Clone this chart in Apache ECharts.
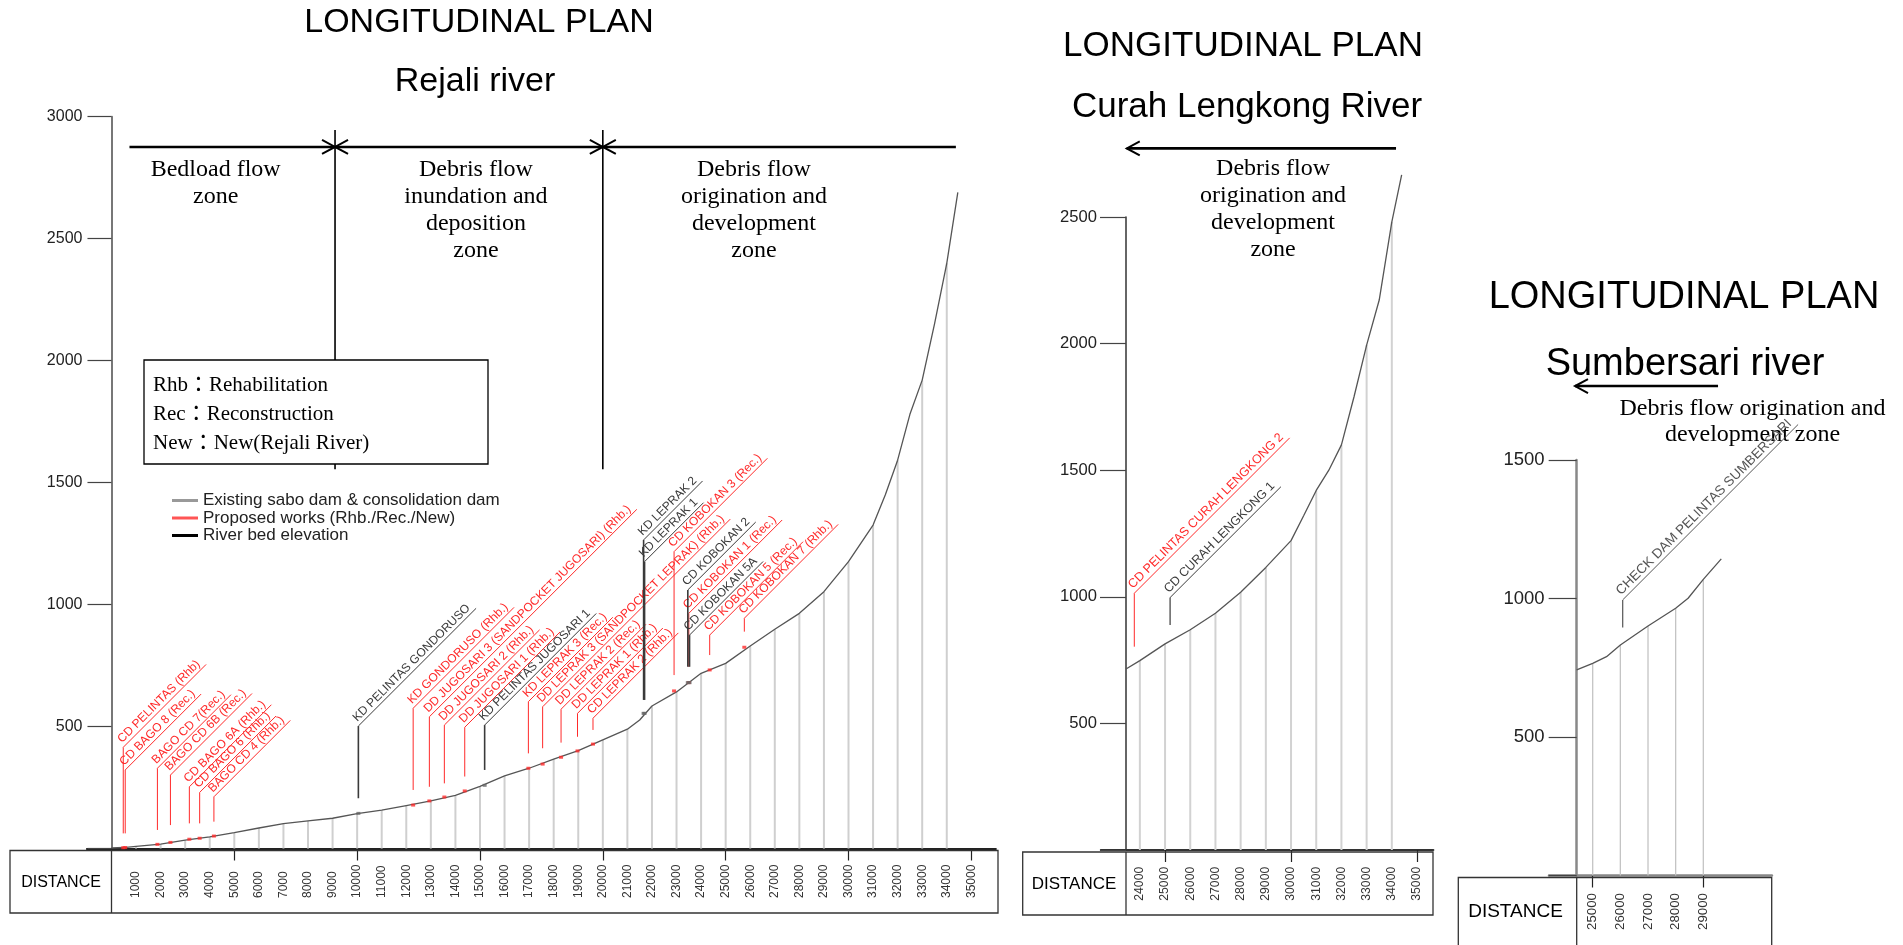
<!DOCTYPE html>
<html>
<head>
<meta charset="utf-8">
<title>Longitudinal plan</title>
<script src="https://cdn.jsdelivr.net/npm/echarts@6/dist/echarts.min.js"></script>
<style>
  html, body { margin: 0; padding: 0; background: #fff; }
  #chart { width: 1903px; height: 945px; }
</style>
</head>
<body>
<div id="chart"></div>
<script>
// ---------- data ----------

// Rejali river profile: distance (m) / river bed elevation (m)
const rejaliDistance = [0, 500, 1000, 2000, 3000, 4000, 5000, 6000, 7000, 8000, 9000, 10000, 11000, 12000, 13000, 14000, 15000, 16000, 17000, 18000, 19000, 20000, 21000, 21500, 22000, 23000, 24000, 25000, 26000, 27000, 28000, 29000, 30000, 31000, 31500, 32000, 32500, 33000, 33500, 34000, 34450]
const rejaliElevation = [2, 4, 9, 18, 34, 48, 65, 84, 102, 113, 124, 143, 157, 176, 195, 218, 255, 298, 329, 366, 401, 445, 489, 527, 584, 642, 718, 759, 830, 899, 964, 1053, 1176, 1326, 1450, 1592, 1780, 1920, 2150, 2399, 2690]
const rejaliDistanceLabels = [1000, 2000, 3000, 4000, 5000, 6000, 7000, 8000, 9000, 10000, 11000, 12000, 13000, 14000, 15000, 16000, 17000, 18000, 19000, 20000, 21000, 22000, 23000, 24000, 25000, 26000, 27000, 28000, 29000, 30000, 31000, 32000, 33000, 34000, 35000]
const rejaliMajorTicks = [5000, 10000, 15000, 20000, 25000, 30000, 35000]

// Rejali works: P = proposed (red), E = existing (dark)
const rejaliWorkNames = [
  'CD PELINTAS (Rhb)', 'CD BAGO 8 (Rec.)', 'BAGO CD 7(Rec.)', 'BAGO CD 6B (Rec.)', 'CD BAGO 6A (Rhb.)',
  'CD BAGO 6 (Rhb.)', 'BAGO CD 4 (Rhb.)', 'KD PELINTAS GONDORUSO', 'KD GONDORUSO (Rhb.)',
  'DD JUGOSARI 3 (SANDPOCKET JUGOSARI) (Rhb.)', 'DD JUGOSARI 2 (Rhb.)', 'DD JUGOSARI 1 (Rhb.)',
  'KD PELINTAS JUGOSARI 1', 'KD LEPRAK 3 (Rec.)', 'DD LEPRAK 3 (SANDPOCKET LEPRAK) (Rhb.)',
  'DD LEPRAK 2 (Rec.)', 'DD LEPRAK 1 (Rhb.)', 'CD LEPRAK 2 (Rhb.)', 'KD LEPRAK 2', 'KD LEPRAK 1',
  'CD KOBOKAN 3 (Rec.)', 'CD KOBOKAN 2', 'CD KOBOKAN 1 (Rec.)', 'CD KOBOKAN 5A', 'CD KOBOKAN 5 (Rec.)',
  'CD KOBOKAN 7 (Rhb.)'
]
const rejaliWorkType = ['P', 'P', 'P', 'P', 'P', 'P', 'P', 'E', 'P', 'P', 'P', 'P', 'E', 'P', 'P', 'P', 'P', 'P', 'E', 'E', 'P', 'E', 'P', 'E', 'P', 'P']
const rejaliWorkDistance = [480, 560, 1870, 2400, 3170, 3590, 4170, 10050, 12280, 12940, 13550, 14380, 15190, 16970, 17550, 18300, 18970, 19600, 21660, 21700, 22900, 23460, 23500, 23530, 24350, 25760]
const rejaliWorkBed = [3, 4, 17, 25, 38, 42, 51, 144, 178, 195, 211, 236, 259, 329, 346, 374, 400, 428, 554, 554, 646, 680, 680, 680, 732, 825]
const rejaliLeaderFrom = [62, 62, 76, 96, 103, 103, 110, 206, 240, 253, 267, 295, 322, 390, 411, 434, 458, 486, 609, 609, 711, 745, 745, 745, 793, 889]
const rejaliLeaderTo = [415, 322, 329, 301, 253, 230, 212, 502, 575, 540, 506, 497, 506, 602, 581, 571, 554, 534, 1265, 1176, 1217, 1060, 964, 875, 875, 944]

// Curah Lengkong river
const curahDistance = [23450, 24000, 25000, 26000, 27000, 28000, 29000, 30000, 30500, 31000, 31500, 32000, 32500, 33000, 33500, 34000, 34390]
const curahElevation = [715, 748, 814, 870, 935, 1018, 1116, 1222, 1320, 1420, 1500, 1600, 1790, 1994, 2172, 2481, 2666]
const curahDistanceLabels = [24000, 25000, 26000, 27000, 28000, 29000, 30000, 31000, 32000, 33000, 34000, 35000]
const curahMajorTicks = [25000, 30000, 35000]
const curahWorkNames = ['CD PELINTAS CURAH LENGKONG 2', 'CD CURAH LENGKONG 1']
const curahWorkType = ['P', 'E']
const curahWorkDistance = [23780, 25200]
const curahLeaderFrom = [803, 889]
const curahLeaderTo = [1014, 997]

// Sumbersari river
const sumberDistance = [24420, 25000, 25500, 26000, 27000, 28000, 28450, 29000, 29650]
const sumberElevation = [742, 766, 790, 832, 901, 965, 1001, 1069, 1143]
const sumberDistanceLabels = [25000, 26000, 27000, 28000, 29000]
const sumberMajorTicks = [25000, 29000]
const sumberWorkNames = ['CHECK DAM PELINTAS SUMBERSARI']
const sumberWorkType = ['E']
const sumberWorkDistance = [26085]
const sumberLeaderFrom = [895]
const sumberLeaderTo = [995]

// ---------- styling ----------
const SANS = '"Liberation Sans", Arial, sans-serif'
const SERIF = '"Liberation Serif", "Times New Roman", "Noto Sans CJK JP", serif'
const RED = '#ff2a2a'
const DARK = '#3a3a3a'
const PROPOSED = 'Proposed works (Rhb./Rec./New)'
const EXISTING = 'Existing sabo dam & consolidation dam'
const RIVERBED = 'River bed elevation'

const measureCtx = document.createElement('canvas').getContext('2d')
function textWidth (s, size) {
  measureCtx.font = size + 'px ' + SANS
  return measureCtx.measureText(s).width
}

const panels = [
  { left: 86.9, top: 116.7, width: 909, height: 731.8, xMin: -1000, xMax: 36000, yAt: 0, yMax: 3000,
    labels: rejaliDistanceLabels, ticks: rejaliMajorTicks, xLabelSize: 12, xLabelMargin: 49.5,
    yLabelSize: 16, yTickLen: 24, yLabelMargin: 29, yColor: '#777', yWidth: 2, baseColor: '#222', baseWidth: 2 },
  { left: 1100.8, top: 217, width: 332.6, height: 633, xMin: 22450, xMax: 35650, yAt: 23450, yMax: 2500,
    labels: curahDistanceLabels, ticks: curahMajorTicks, xLabelSize: 12.2, xLabelMargin: 50.7,
    yLabelSize: 16.6, yTickLen: 26, yLabelMargin: 29, yColor: '#333', yWidth: 1.5, baseColor: '#333', baseWidth: 2 },
  { left: 1549, top: 460, width: 222.9, height: 415.5, xMin: 23420, xMax: 31480, yAt: 24420, yMax: 1500,
    labels: sumberDistanceLabels, ticks: sumberMajorTicks, xLabelSize: 13.3, xLabelMargin: 54.5,
    yLabelSize: 18.5, yTickLen: 28, yLabelMargin: 32, yColor: '#888', yWidth: 2.5, baseColor: '#888', baseWidth: 2.5 }
]

const grids = panels.map(p => ({ left: p.left, top: p.top, width: p.width, height: p.height }))

const xAxes = panels.map((p, i) => ({
  type: 'value', gridIndex: i, min: p.xMin, max: p.xMax,
  splitLine: { show: false },
  axisLine: { onZero: false, lineStyle: { color: p.baseColor, width: p.baseWidth } },
  axisTick: { customValues: p.ticks, length: 12, lineStyle: { color: '#222', width: 1.2 } },
  axisLabel: {
    customValues: p.labels, rotate: 90, align: 'left', verticalAlign: 'middle',
    margin: p.xLabelMargin, fontSize: p.xLabelSize, fontFamily: SANS, color: '#333',
    formatter: v => String(v)
  }
}))

const yAxes = panels.map((p, i) => ({
  type: 'value', gridIndex: i, min: 0, max: p.yMax, interval: 500,
  offset: -(p.yAt - p.xMin) / (p.xMax - p.xMin) * p.width,
  splitLine: { show: false },
  axisLine: { show: true, onZero: false, lineStyle: { color: p.yColor, width: p.yWidth } },
  axisTick: { show: true, length: p.yTickLen, lineStyle: { color: '#444', width: 1.2 } },
  axisLabel: {
    margin: p.yLabelMargin, fontSize: p.yLabelSize, fontFamily: SANS, color: '#222',
    formatter: v => (v === 0 ? '' : String(v))
  }
}))

// ---------- series builders ----------
function profileSeries (gi, dist, elev) {
  return {
    type: 'line', name: RIVERBED, xAxisIndex: gi, yAxisIndex: gi, z: 3, clip: false,
    symbol: 'none', lineStyle: { color: '#555', width: 1.3 }, itemStyle: { color: '#000' },
    data: dist.map((d, i) => [d, elev[i]])
  }
}

function stationSeries (gi, dist, elev, color, width) {
  const data = []
  dist.forEach((d, i) => { if (d > 0 && d % 1000 === 0) data.push([d, elev[i]]) })
  return {
    type: 'custom', xAxisIndex: gi, yAxisIndex: gi, z: 1, silent: true, data,
    renderItem: (params, api) => {
      const a = api.coord([api.value(0), 0])
      const b = api.coord([api.value(0), api.value(1)])
      return { type: 'line', shape: { x1: a[0], y1: a[1], x2: b[0], y2: b[1] }, style: { stroke: color, lineWidth: width } }
    }
  }
}

function leaderSeries (gi, name, color, names, dist, from, to, fontSize, lineWidth) {
  return {
    type: 'custom', name, xAxisIndex: gi, yAxisIndex: gi, z: 5, itemStyle: { color },
    data: dist.map((d, i) => [d, from[i], to[i]]),
    renderItem: (params, api) => {
      const label = names[params.dataIndex]
      const p0 = api.coord([api.value(0), api.value(1)])
      const p1 = api.coord([api.value(0), api.value(2)])
      const k = Math.SQRT1_2
      const len = textWidth(label, fontSize) + 6
      return {
        type: 'group',
        children: [
          { type: 'line', shape: { x1: p0[0], y1: p0[1], x2: p1[0], y2: p1[1] }, style: { stroke: color, lineWidth } },
          { type: 'line', shape: { x1: p1[0], y1: p1[1], x2: p1[0] + len * k, y2: p1[1] - len * k }, style: { stroke: color, lineWidth: 1 } },
          {
            type: 'text', x: p1[0] + 2 * k - 1 * k, y: p1[1] - 2 * k - 1 * k, rotation: Math.PI / 4,
            style: { text: label, fill: color, fontSize, fontFamily: SANS, align: 'left', verticalAlign: 'bottom' }
          }
        ]
      }
    }
  }
}

function dotSeries (gi, name, color, dist, bed) {
  return {
    type: 'scatter', name, xAxisIndex: gi, yAxisIndex: gi, z: 4, symbol: 'rect', symbolSize: [4, 3],
    itemStyle: { color }, data: dist.map((d, i) => [d, bed[i]])
  }
}

// split a works table into proposed / existing
function pick (type, want, arr) { return arr.filter((v, i) => type[i] === want) }

// zone arrows: [x1, x2, y, head at start, head at end]
function arrowSeries (gi, arrows) {
  return {
    type: 'custom', xAxisIndex: gi, yAxisIndex: gi, z: 2, silent: true, data: arrows,
    renderItem: (params, api) => {
      const a = api.coord([api.value(0), api.value(2)])
      const b = api.coord([api.value(1), api.value(2)])
      const kids = [{ type: 'line', shape: { x1: a[0], y1: a[1], x2: b[0], y2: b[1] }, style: { stroke: '#000', lineWidth: 2.6 } }]
      const head = (pt, dir) => ({
        type: 'polyline',
        shape: { points: [[pt[0] - dir * 13, pt[1] - 7], [pt[0], pt[1]], [pt[0] - dir * 13, pt[1] + 7]] },
        style: { stroke: '#000', lineWidth: 2, fill: null }
      })
      if (api.value(3)) kids.push(head(a, -1))
      if (api.value(4)) kids.push(head(b, 1))
      return { type: 'group', children: kids }
    }
  }
}

// zone boundaries: [x, yLow, yHigh]
function boundSeries (gi, bounds) {
  return {
    type: 'custom', xAxisIndex: gi, yAxisIndex: gi, z: 2, silent: true, data: bounds,
    renderItem: (params, api) => {
      const a = api.coord([api.value(0), api.value(1)])
      const b = api.coord([api.value(0), api.value(2)])
      return { type: 'line', shape: { x1: a[0], y1: a[1], x2: b[0], y2: b[1] }, style: { stroke: '#000', lineWidth: 1.6 } }
    }
  }
}

// zone captions: anchor is centre-top of the text block
function captionSeries (gi, anchors, texts, lineHeight) {
  return {
    type: 'custom', xAxisIndex: gi, yAxisIndex: gi, z: 2, silent: true, data: anchors,
    renderItem: (params, api) => {
      const p = api.coord([api.value(0), api.value(1)])
      return {
        type: 'text', x: p[0], y: p[1],
        style: { text: texts[params.dataIndex], fill: '#000', fontSize: 24, fontFamily: SERIF, lineHeight, align: 'center', verticalAlign: 'top' }
      }
    }
  }
}

const series = [
  // Rejali
  stationSeries(0, rejaliDistance, rejaliElevation, '#cfcfcf', 2),
  profileSeries(0, rejaliDistance, rejaliElevation),
  dotSeries(0, PROPOSED, RED, pick(rejaliWorkType, 'P', rejaliWorkDistance), pick(rejaliWorkType, 'P', rejaliWorkBed)),
  dotSeries(0, EXISTING, '#666', pick(rejaliWorkType, 'E', rejaliWorkDistance), pick(rejaliWorkType, 'E', rejaliWorkBed)),
  leaderSeries(0, PROPOSED, RED, pick(rejaliWorkType, 'P', rejaliWorkNames), pick(rejaliWorkType, 'P', rejaliWorkDistance),
    pick(rejaliWorkType, 'P', rejaliLeaderFrom), pick(rejaliWorkType, 'P', rejaliLeaderTo), 12, 1),
  leaderSeries(0, EXISTING, DARK, pick(rejaliWorkType, 'E', rejaliWorkNames), pick(rejaliWorkType, 'E', rejaliWorkDistance),
    pick(rejaliWorkType, 'E', rejaliLeaderFrom), pick(rejaliWorkType, 'E', rejaliLeaderTo), 12, 1.6),
  arrowSeries(0, [[733, 9100, 2876, 0, 1], [9100, 20000, 2876, 1, 1], [20000, 34371, 2876, 1, 0]]),
  boundSeries(0, [[9100, 1555, 2945], [20000, 1555, 2945]]),
  captionSeries(0, [[4241, 2837], [14835, 2837], [26150, 2837]],
    ['Bedload flow\nzone', 'Debris flow\ninundation and\ndeposition\nzone', 'Debris flow\norigination and\ndevelopment\nzone'], 27),
  // Curah Lengkong
  stationSeries(1, curahDistance, curahElevation, '#d2d2d2', 2),
  profileSeries(1, curahDistance, curahElevation),
  leaderSeries(1, PROPOSED, RED, pick(curahWorkType, 'P', curahWorkNames), pick(curahWorkType, 'P', curahWorkDistance),
    pick(curahWorkType, 'P', curahLeaderFrom), pick(curahWorkType, 'P', curahLeaderTo), 12.5, 1),
  leaderSeries(1, EXISTING, DARK, pick(curahWorkType, 'E', curahWorkNames), pick(curahWorkType, 'E', curahWorkDistance),
    pick(curahWorkType, 'E', curahLeaderFrom), pick(curahWorkType, 'E', curahLeaderTo), 12.5, 1.2),
  arrowSeries(1, [[23480, 34167, 2771, 1, 0]]),
  captionSeries(1, [[29286, 2743]], ['Debris flow\norigination and\ndevelopment\nzone'], 27),
  // Sumbersari
  stationSeries(2, sumberDistance, sumberElevation, '#c4c4c4', 1.3),
  profileSeries(2, sumberDistance, sumberElevation),
  leaderSeries(2, EXISTING, '#555', sumberWorkNames, sumberWorkDistance, sumberLeaderFrom, sumberLeaderTo, 13.5, 1.2),
  arrowSeries(2, [[24360, 29532, 1767, 1, 0]]),
  captionSeries(2, [[30779, 1733]], ['Debris flow origination and\ndevelopment zone'], 26)
]

// ---------- page furniture ----------
function label (x, y, text, size, family) {
  return {
    type: 'text', x, y, z: 60,
    style: { text, fontSize: size, fontFamily: family || SANS, fill: '#000', align: 'center', verticalAlign: 'middle' }
  }
}
function distanceBox (x, y, w, h, sepX, tx, ty, size) {
  return [
    { type: 'rect', z: 40, shape: { x, y, width: w, height: h }, style: { fill: 'none', stroke: '#333', lineWidth: 1.3 } },
    { type: 'line', z: 40, shape: { x1: sepX, y1: y, x2: sepX, y2: y + h }, style: { stroke: '#333', lineWidth: 1.3 } },
    label(tx, ty, 'DISTANCE', size)
  ]
}
function noteLine (y, text) {
  return {
    type: 'text', x: 153, y, z: 61,
    style: { text, fontSize: 21, fontFamily: SERIF, fill: '#000', align: 'left', verticalAlign: 'middle' }
  }
}

const graphic = [
  label(479, 23, 'LONGITUDINAL PLAN', 34),
  label(475, 82, 'Rejali river', 34),
  label(1243, 46, 'LONGITUDINAL PLAN', 35),
  label(1247, 107, 'Curah Lengkong River', 35),
  label(1684, 298, 'LONGITUDINAL PLAN', 38),
  label(1685, 365, 'Sumbersari river', 38),
  { type: 'rect', z: 50, shape: { x: 144, y: 360, width: 344, height: 104 }, style: { fill: '#fff', stroke: '#000', lineWidth: 1.3 } },
  noteLine(385, 'Rhb：Rehabilitation'),
  noteLine(414, 'Rec：Reconstruction'),
  noteLine(443, 'New：New(Rejali River)'),
  ...distanceBox(10, 850.5, 988, 62.5, 111.5, 61, 883, 16),
  ...distanceBox(1022.7, 852, 410.3, 63, 1126, 1074, 884.3, 17),
  ...distanceBox(1458.3, 877.5, 313.4, 80, 1576.7, 1515.5, 912, 19)
]

const chart = echarts.init(document.getElementById('chart'))
chart.setOption({
  animation: false,
  backgroundColor: '#fff',
  grid: grids,
  xAxis: xAxes,
  yAxis: yAxes,
  legend: {
    orient: 'vertical', left: 167, top: 487, itemWidth: 26, itemHeight: 3, itemGap: 0.5, icon: 'rect',
    textStyle: { fontFamily: SANS, fontSize: 17, color: '#222', lineHeight: 16 },
    data: [
      { name: EXISTING, itemStyle: { color: '#808080' } },
      { name: PROPOSED, itemStyle: { color: RED } },
      { name: RIVERBED, itemStyle: { color: '#000' } }
    ]
  },
  graphic,
  series
})
window.addEventListener('resize', () => chart.resize())
</script>
</body>
</html>
